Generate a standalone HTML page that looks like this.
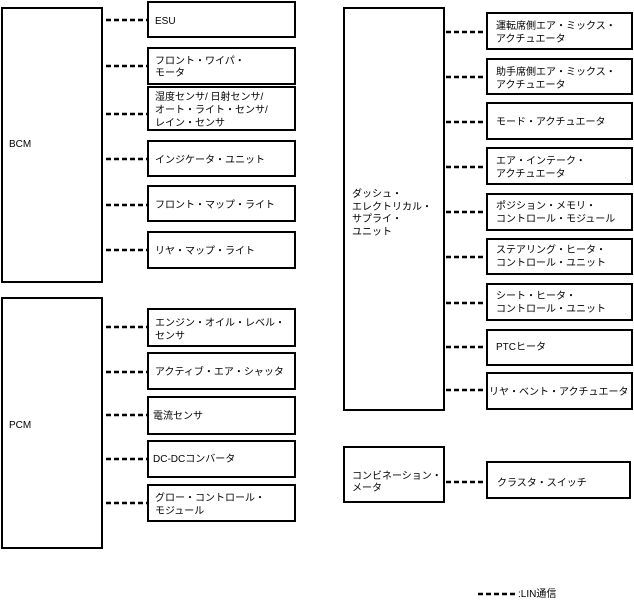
<!DOCTYPE html>
<html><head><meta charset="utf-8"><style>
body{margin:0;background:#fff}
svg text{font-family:"Liberation Sans","Noto Sans CJK JP",sans-serif;font-size:10px;fill:#000}
</style></head><body>
<svg width="634" height="601" viewBox="0 0 634 601" xmlns="http://www.w3.org/2000/svg">
<g fill="none" stroke="#000" stroke-width="2">
<rect x="2" y="8" width="100" height="274"/>
<rect x="2" y="298" width="100" height="250"/>
<rect x="344" y="8" width="100" height="402"/>
<rect x="344" y="447" width="100" height="55"/>
<rect x="148" y="2" width="147" height="35"/>
<rect x="148" y="48" width="147" height="36"/>
<rect x="148" y="87" width="147" height="43"/>
<rect x="148" y="141" width="147" height="35"/>
<rect x="148" y="186" width="147" height="35"/>
<rect x="148" y="232" width="147" height="36"/>
<rect x="148" y="309" width="147" height="37"/>
<rect x="148" y="353" width="147" height="36"/>
<rect x="148" y="397" width="147" height="37"/>
<rect x="148" y="441" width="147" height="36"/>
<rect x="148" y="485" width="147" height="36"/>
<rect x="487" y="13" width="145" height="36"/>
<rect x="487" y="59" width="145" height="35"/>
<rect x="487" y="103" width="145" height="36"/>
<rect x="487" y="148" width="145" height="36"/>
<rect x="487" y="194" width="145" height="36"/>
<rect x="487" y="239" width="145" height="35"/>
<rect x="487" y="284" width="145" height="36"/>
<rect x="487" y="330" width="145" height="35"/>
<rect x="487" y="373" width="145" height="36"/>
<rect x="487" y="462" width="143" height="36"/>
</g>
<g stroke="#000" stroke-width="2.5" stroke-dasharray="5,3">
<line x1="106" y1="20" x2="148" y2="20"/>
<line x1="106" y1="66" x2="148" y2="66"/>
<line x1="106" y1="114" x2="148" y2="114"/>
<line x1="106" y1="159" x2="148" y2="159"/>
<line x1="106" y1="205" x2="148" y2="205"/>
<line x1="106" y1="250" x2="148" y2="250"/>
<line x1="106" y1="327" x2="148" y2="327"/>
<line x1="106" y1="372" x2="148" y2="372"/>
<line x1="106" y1="415" x2="148" y2="415"/>
<line x1="106" y1="459" x2="148" y2="459"/>
<line x1="106" y1="503" x2="148" y2="503"/>
<line x1="446" y1="32" x2="487" y2="32"/>
<line x1="446" y1="77" x2="487" y2="77"/>
<line x1="446" y1="122" x2="487" y2="122"/>
<line x1="446" y1="167" x2="487" y2="167"/>
<line x1="446" y1="212" x2="487" y2="212"/>
<line x1="446" y1="257" x2="487" y2="257"/>
<line x1="446" y1="303" x2="487" y2="303"/>
<line x1="446" y1="347" x2="487" y2="347"/>
<line x1="446" y1="390" x2="487" y2="390"/>
<line x1="446" y1="482" x2="487" y2="482"/>
<line x1="478" y1="594" x2="515" y2="594"/>
</g>
<text x="9" y="147">BCM</text>
<text x="9" y="428">PCM</text>
<text x="352" y="197">ダッシュ・</text>
<text x="352" y="210">エレクトリカル・</text>
<text x="352" y="222">サプライ・</text>
<text x="352" y="235">ユニット</text>
<text x="352" y="479">コンビネーション・</text>
<text x="352" y="491">メータ</text>
<text x="155" y="24">ESU</text>
<text x="155" y="64">フロント・ワイパ・</text>
<text x="155" y="76">モータ</text>
<text x="155" y="100">湿度センサ/ 日射センサ/</text>
<text x="155" y="113">オート・ライト・センサ/</text>
<text x="155" y="126">レイン・センサ</text>
<text x="155" y="163">インジケータ・ユニット</text>
<text x="155" y="208">フロント・マップ・ライト</text>
<text x="155" y="254">リヤ・マップ・ライト</text>
<text x="155" y="326">エンジン・オイル・レベル・</text>
<text x="155" y="339">センサ</text>
<text x="155" y="375">アクティブ・エア・シャッタ</text>
<text x="153" y="419">電流センサ</text>
<text x="153" y="462">DC-DCコンバータ</text>
<text x="155" y="501">グロー・コントロール・</text>
<text x="155" y="514">モジュール</text>
<text x="496" y="29">運転席側エア・ミックス・</text>
<text x="496" y="42">アクチュエータ</text>
<text x="496" y="75">助手席側エア・ミックス・</text>
<text x="496" y="88">アクチュエータ</text>
<text x="496" y="125">モード・アクチュエータ</text>
<text x="496" y="164">エア・インテーク・</text>
<text x="496" y="177">アクチュエータ</text>
<text x="496" y="209">ポジション・メモリ・</text>
<text x="496" y="222">コントロール・モジュール</text>
<text x="496" y="253">ステアリング・ヒータ・</text>
<text x="496" y="266">コントロール・ユニット</text>
<text x="496" y="299">シート・ヒータ・</text>
<text x="496" y="312">コントロール・ユニット</text>
<text x="496" y="350">PTCヒータ</text>
<text x="489" y="395">リヤ・ベント・アクチュエータ</text>
<text x="497" y="486">クラスタ・スイッチ</text>
<text x="518" y="597">:LIN通信</text>
</svg>
</body></html>
